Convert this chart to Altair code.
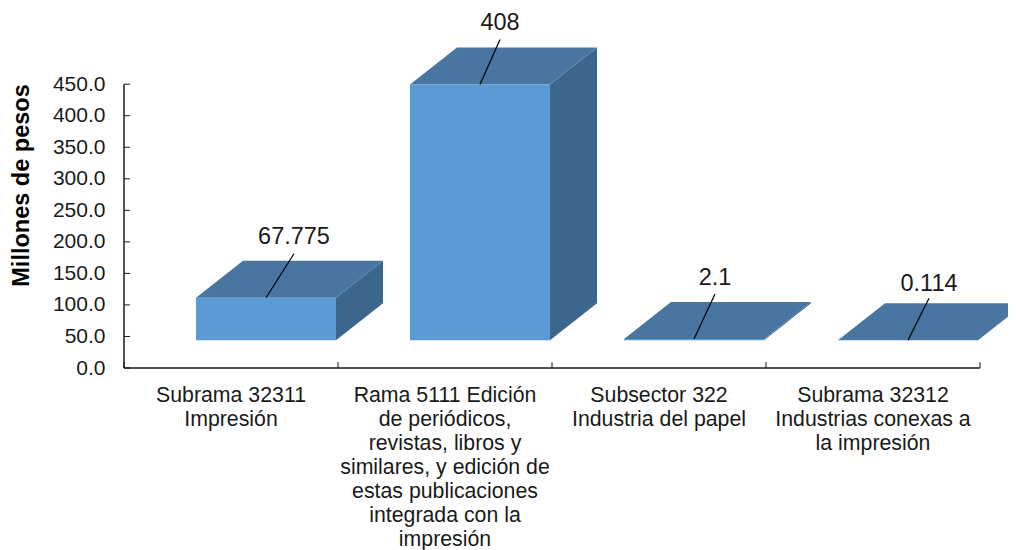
import altair as alt
import pandas as pd

# ---- values
categories = [
    "Subrama 32311\nImpresión",
    "Rama 5111 Edición\nde periódicos,\nrevistas, libros y\nsimilares, y edición de\nestas publicaciones\nintegrada con la\nimpresión",
    "Subsector 322\nIndustria del papel",
    "Subrama 32312\nIndustrias conexas a\nla impresión",
]
values = [67.775, 408, 2.1, 0.114]
value_labels = ["67.775", "408", "2.1", "0.114"]
y_ticks = [0, 50, 100, 150, 200, 250, 300, 350, 400, 450]
x_ticks = [0, 1, 2, 3, 4]

# ---- pseudo-3D geometry, in scale units
PX_X = 214.0          # px per category
PX_Y = 0.6307         # px per y unit
LEFT = 72 / PX_X
BAR_W = 140 / PX_X
DEPTH_X = 47 / PX_X
DEPTH_Y = 37 / PX_Y
FLOOR = 44.0
HEIGHT_FACTOR = 0.994  # the perspective drawing renders bars slightly shorter than the axis
leader_x = [28 / PX_X, 20 / PX_X, 21 / PX_X, 21 / PX_X]
leader_y = [44 / PX_Y, 45 / PX_Y, 45 / PX_Y, 42 / PX_Y]
label_gap = [17 / PX_Y, 16 / PX_Y, 16 / PX_Y, 14 / PX_Y]

W, H = 884, 360
X_MAX = W / PX_X
Y_MAX = H / PX_Y

faces, fronts, leaders = [], [], []
for i, v in enumerate(values):
    x0 = i + LEFT
    x1 = x0 + BAR_W
    top = FLOOR + v * HEIGHT_FACTOR
    fronts.append({"x": x0, "x2": x1, "y": FLOOR, "y2": top})
    side = f"side{i}"
    faces += [
        {"id": side, "face": "side", "x": x1, "y": FLOOR, "y2": top},
        {"id": side, "face": "side", "x": x1 + DEPTH_X, "y": FLOOR + DEPTH_Y, "y2": top + DEPTH_Y},
    ]
    lid = f"top{i}"
    faces += [
        {"id": lid, "face": "top", "x": x0, "y": top, "y2": top},
        {"id": lid, "face": "top", "x": x0 + DEPTH_X, "y": top, "y2": top + DEPTH_Y},
        {"id": lid, "face": "top", "x": x1, "y": top, "y2": top + DEPTH_Y},
        {"id": lid, "face": "top", "x": x1 + DEPTH_X, "y": top + DEPTH_Y, "y2": top + DEPTH_Y},
    ]
    xm = (x0 + x1) / 2
    leaders.append({
        "x": xm, "x2": xm + leader_x[i], "y": top, "y2": top + leader_y[i],
        "ty": top + leader_y[i] + label_gap[i], "label": value_labels[i],
    })

faces = pd.DataFrame(faces)
fronts = pd.DataFrame(fronts)
leaders = pd.DataFrame(leaders)
cats = pd.DataFrame({
    "x": [i + 0.5 for i in range(len(categories))],
    "y": [-16.5 / PX_Y] * len(categories),
    "label": categories,
})
yt = pd.DataFrame({"y": y_ticks, "x": [0] * len(y_ticks), "x2": [6 / PX_X] * len(y_ticks)})
xt = pd.DataFrame({"x": x_ticks, "y": [0] * len(x_ticks), "y2": [6 / PX_Y] * len(x_ticks)})

FONT = "Liberation Sans"
INK = "#1a1a1a"

xs = alt.Scale(domain=[0, X_MAX], nice=False, zero=False)
ys = alt.Scale(domain=[0, Y_MAX], nice=False, zero=False)
AX = alt.Axis(
    values=y_ticks, format=".1f", domain=False, ticks=False, grid=False,
    labelFont=FONT, labelFontSize=21, labelColor=INK, labelPadding=19,
    title="Millones de pesos", titleFont=FONT, titleFontSize=23.5, titleFontWeight="bold",
    titleColor="#000000", titleBaseline="middle", titleX=-103, titleY=177,
)
X = alt.X("x:Q", scale=xs, axis=None)
Y = alt.Y("y:Q", scale=ys, axis=AX)

area = alt.Chart(faces).mark_area(interpolate="linear", opacity=1).encode(
    x=X, y=Y, y2="y2:Q", detail="id:N",
    color=alt.Color("face:N", legend=None,
                    scale=alt.Scale(domain=["side", "top"], range=["#3d668c", "#4876a1"])),
)
front = alt.Chart(fronts).mark_rect(color="#5b9bd5").encode(x=X, x2="x2:Q", y=Y, y2="y2:Q")
leader = alt.Chart(leaders).mark_rule(color="#000000", strokeWidth=1.2).encode(
    x=X, x2="x2:Q", y=Y, y2="y2:Q")
labels = alt.Chart(leaders).mark_text(font=FONT, fontSize=23.5, color=INK, baseline="middle").encode(
    x=alt.X("x2:Q", scale=xs, axis=None),
    y=alt.Y("ty:Q", scale=ys, axis=AX),
    text="label:N",
)
y_domain = alt.Chart(pd.DataFrame({"x": [0], "y": [0], "y2": [max(y_ticks)]})).mark_rule(
    color="#1a1a1a", strokeWidth=1.5).encode(x=X, y=Y, y2="y2:Q")
x_domain = alt.Chart(pd.DataFrame({"x": [0], "x2": [max(x_ticks)], "y": [0]})).mark_rule(
    color="#1a1a1a", strokeWidth=1.5).encode(x=X, x2="x2:Q", y=Y)
y_tick = alt.Chart(yt).mark_rule(color="#1a1a1a", strokeWidth=1).encode(x=X, x2="x2:Q", y=Y)
x_tick = alt.Chart(xt).mark_rule(color="#1a1a1a", strokeWidth=1).encode(x=X, y=Y, y2="y2:Q")
cat_text = alt.Chart(cats).mark_text(
    font=FONT, fontSize=21.3, color=INK, lineBreak="\n", lineHeight=24, baseline="top", align="center",
).encode(x=X, y=Y, text="label:N")

chart = alt.layer(
    area, front, leader, labels, y_domain, x_domain, y_tick, x_tick, cat_text
).properties(
    width=W, height=H,
    padding={"left": 116, "top": 0, "right": 0, "bottom": 182},
    autosize=alt.AutoSizeParams(type="none"),
).configure_view(stroke=None)

chart.save("out.html", embed_options={"renderer": "svg", "actions": False})
